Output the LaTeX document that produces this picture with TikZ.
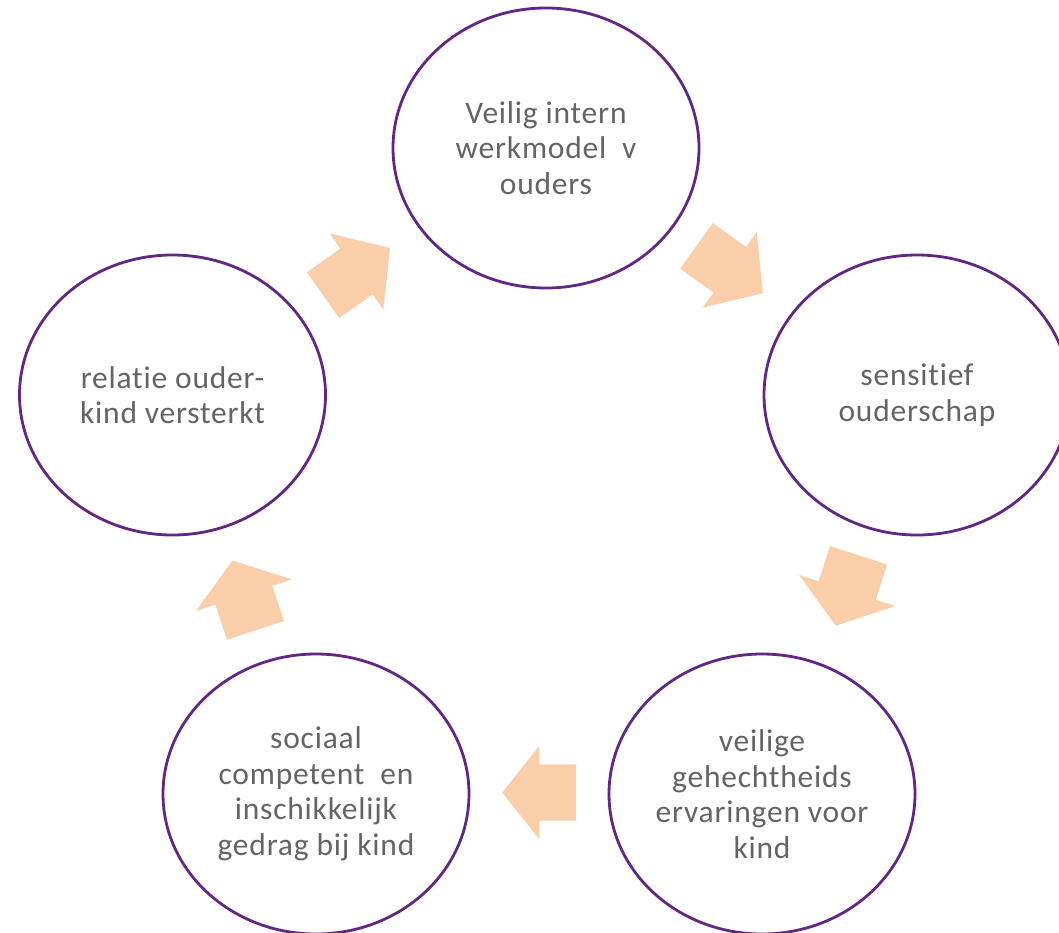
\documentclass[tikz,border=0pt]{standalone}
\usepackage{fontspec}
\setmainfont[Ligatures={NoCommon,NoRequired,NoContextual},LetterSpace=2.5]{Carlito}
\usetikzlibrary{shapes.geometric}
\definecolor{ringpurple}{RGB}{98,38,132}
\definecolor{textgray}{RGB}{100,100,100}
\definecolor{peach}{RGB}{249,206,168}
\tikzset{
  cyclenode/.style={ellipse, draw=ringpurple, line width=2.8pt, fill=white,
    minimum width=306pt, minimum height=280pt, inner sep=0pt,
    align=center, text=textgray, font=\fontsize{31.5}{35.5}\selectfont},
  arrowfill/.style={fill=peach}
}
% x, y (head base centre), angle, shaft length, head length, shaft width, head width
\newcommand\blockarrow[7]{%
  \fill[arrowfill,shift={(#1,#2)},rotate=#3]
    (-#4,-#6/2) -- (0,-#6/2) -- (0,-#7/2) -- (#5,0) -- (0,#7/2) -- (0,#6/2) -- (-#4,#6/2) -- cycle;}
\begin{document}
\begin{tikzpicture}[x=1pt,y=-1pt]
  \path[use as bounding box, clip] (0,0) rectangle (1059,933);
  \fill[white] (0,0) rectangle (1059,933);

  \node[cyclenode] (top) at (546,148) {Veilig intern\\werkmodel\ \ v\\ouders};
  \node[cyclenode] (right) at (917,395) {sensitief\\ouderschap};
  \node[cyclenode] (br) at (762,794) {veilige\\gehechtheids\\ervaringen voor\\kind};
  \node[cyclenode] (bl) at (316,794) {sociaal\\competent\ \ en\\inschikkelijk\\gedrag bij kind};
  \node[cyclenode] (left) at (172.5,395) {relatie ouder-\\kind versterkt};

  \blockarrow{356.5}{271.5}{35.2}{41}{41}{56}{93}
  \blockarrow{729.8}{269.7}{-35.5}{41}{40.5}{56}{93}
  \blockarrow{847.2}{590.5}{-107.9}{37}{37}{60}{101}
  \blockarrow{539.3}{792.5}{180}{36.7}{37}{56.4}{93.3}
  \blockarrow{243.9}{595.2}{108.2}{37}{36.5}{60}{101}
\end{tikzpicture}
\end{document}
